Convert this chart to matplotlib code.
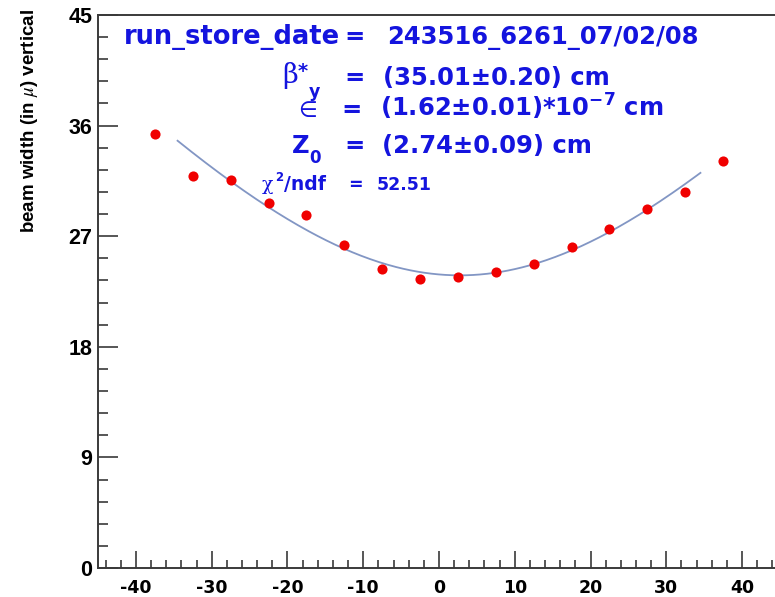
import numpy as np
import matplotlib
matplotlib.use("Agg")
import matplotlib.pyplot as plt
from matplotlib.ticker import MultipleLocator

plt.rcParams["axes.unicode_minus"] = False

# Measured beam width (microns) versus z position (cm)
z_pos = [-37.5, -32.5, -27.5, -22.5, -17.5, -12.5, -7.5, -2.5,
         2.5, 7.5, 12.5, 17.5, 22.5, 27.5, 32.5, 37.5]
width = [35.3, 31.9, 31.6, 29.7, 28.7, 26.3, 24.3, 23.5,
         23.7, 24.1, 24.7, 26.1, 27.6, 29.2, 30.6, 33.1]

x_ticks = [-40, -30, -20, -10, 0, 10, 20, 30, 40]
y_ticks = [0, 9, 18, 27, 36, 45]

# Fit results
beta_star = 35.01      # cm
beta_err = 0.20
emit = 1.62            # 1e-7 cm
emit_err = 0.01
z0 = 2.74              # cm
z0_err = 0.09
chi2_ndf = 52.51
fit_range = (-34.5, 34.5)
run_label = "243516_6261_07/02/08"

W, H = 775, 597
fig = plt.figure(figsize=(W / 100, H / 100), dpi=100)
fig.patch.set_facecolor("white")

ax = fig.add_axes([98 / W, (H - 568) / H, (780 - 98) / W, (568 - 15) / H])
ax.set_xlim(-45, 45)
ax.set_ylim(0, 45)

edge = "#3a3a3a"
for s in ax.spines.values():
    s.set_color(edge)
    s.set_linewidth(1.4)

ax.set_xticks(x_ticks, [str(v) for v in x_ticks], fontfamily="DejaVu Sans",
              fontweight="bold", fontsize=12.5)
ax.set_yticks(y_ticks, [str(v) for v in y_ticks], fontfamily="Liberation Sans",
              fontweight="bold", fontsize=15.5)
ax.xaxis.set_minor_locator(MultipleLocator(2))
ax.yaxis.set_minor_locator(MultipleLocator(1.8))
ax.tick_params(axis="both", which="both", direction="in", color=edge, width=1.2,
               top=False, right=False)
ax.tick_params(axis="y", which="major", length=14.5, pad=4)
ax.tick_params(axis="y", which="minor", length=7.5)
ax.tick_params(axis="x", which="major", length=12, pad=8)
ax.tick_params(axis="x", which="minor", length=6)

# Fit curve: sigma(z) = sqrt(eps * beta* * (1 + ((z - z0)/beta*)^2)), in microns
zz = np.linspace(fit_range[0], fit_range[1], 300)
sigma = np.sqrt(emit * 1e-7 * beta_star * (1 + ((zz - z0) / beta_star) ** 2)) * 1e4
ax.plot(zz, sigma, color="#8296c4", lw=1.3, zorder=2)

ax.plot(z_pos, width, "o", color="#f00000", markersize=7.3, markeredgewidth=0, zorder=3)

# Y axis title
fig.text(30 / W, 1 - 121 / H, "beam width (in $\\mu$) vertical", rotation=90,
         ha="center", va="center", fontsize=13.5, fontweight="bold",
         family="Liberation Sans", math_fontfamily="stix", color="black")

blue = "#1414de"


def put(x, y, s, size, weight="bold", family="DejaVu Sans", ha="left", **kw):
    fig.text(x / W, 1 - y / H, s, fontsize=size, fontweight=weight, family=family,
             ha=ha, va="baseline", color=blue, **kw)


big = 17.5
eq_x = 355
val_x = 383

# run / store / date
put(340, 44, "run_store_date", 18.5, ha="right")
put(eq_x, 44, "=", big, ha="center")
put(387, 44, run_label, big)

# beta*
put(282, 83, "\u03b2", 19.5, weight="normal", family="DejaVu Serif")
put(298, 77, "*", 14)
put(eq_x, 85, "=", big, ha="center")
put(val_x, 85, f"({beta_star:.2f}\u00b1{beta_err:.2f}) cm", big)

# emittance
put(298, 117, "\u2208", 15.5, weight="normal", family="DejaVu Sans")
put(309, 97, "y", 12.5)
put(eq_x - 3, 117, "=", big, ha="center")
put(380, 117, f"({emit:.2f}\u00b1{emit_err:.2f})*10$^{{\\mathbf{{-7}}}}$ cm", big)

# Z0
put(292, 153, "Z", big)
put(309, 163, "0", 12)
put(eq_x, 153, "=", big, ha="center")
put(382, 153, f"({z0:.2f}\u00b1{z0_err:.2f}) cm", big)

# chi2 / ndf
put(262, 190, "\u03c7", 13.5, weight="normal", family="DejaVu Serif")
put(275, 181, "2", 8.5)
put(284, 190, "/ndf", 13.5)
put(eq_x, 190, "=", 12.5, ha="center")
put(377, 190, f"{chi2_ndf:.2f}", 12.5)

fig.savefig("out.png", dpi=100, facecolor="white")
